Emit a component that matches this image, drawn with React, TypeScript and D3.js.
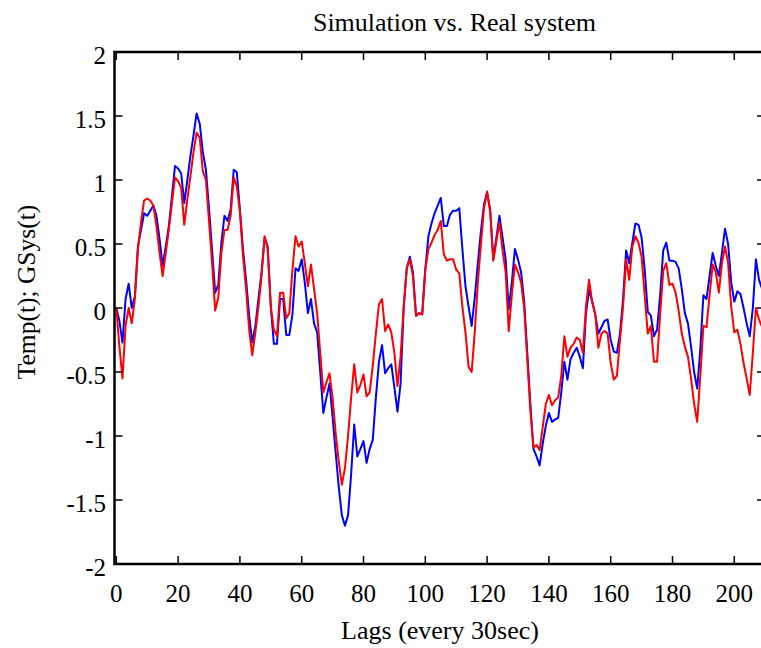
import React from "react";
import * as d3 from "d3";

const title = "Simulation vs. Real system";
const xLabel = "Lags (every 30sec)";
const yLabel = "Temp(t); GSys(t)";
const xTicks = [0, 20, 40, 60, 80, 100, 120, 140, 160, 180, 200];
const yTicks = [-2, -1.5, -1, -0.5, 0, 0.5, 1, 1.5, 2];

const blueSeries = [
  0, -0.1, -0.27, 0.07, 0.19, 0.0, 0.09, 0.48, 0.61, 0.74,
  0.72, 0.76, 0.8, 0.72, 0.54, 0.33, 0.48, 0.64, 0.87, 1.11,
  1.09, 1.05, 0.82, 1.0, 1.19, 1.35, 1.52, 1.44, 1.22, 1.08,
  0.78, 0.45, 0.12, 0.18, 0.51, 0.72, 0.68, 0.77, 1.08, 1.06,
  0.77, 0.46, 0.22, -0.06, -0.27, -0.14, 0.07, 0.28, 0.55, 0.48,
  0.01, -0.28, -0.28, 0.07, 0.07, -0.21, -0.21, -0.05, 0.31, 0.29,
  0.38, 0.2, -0.04, 0.07, -0.12, -0.19, -0.5, -0.82, -0.7, -0.59,
  -0.85, -1.13, -1.4, -1.62, -1.7, -1.62, -1.3, -0.91, -1.16, -1.1,
  -1.04, -1.21, -1.1, -1.03, -0.7, -0.42, -0.29, -0.51, -0.47, -0.44,
  -0.62, -0.81, -0.59, 0.0, 0.31, 0.4, 0.28, -0.06, -0.04, -0.05,
  0.3, 0.56, 0.66, 0.74, 0.8, 0.86, 0.64, 0.64, 0.73, 0.76,
  0.76, 0.78, 0.46, 0.17, 0.01, -0.14, 0.08, 0.35, 0.6, 0.81,
  0.9, 0.77, 0.38, 0.55, 0.72, 0.55, 0.38, -0.01, 0.2, 0.46,
  0.38, 0.28, 0.05, -0.35, -0.75, -1.1, -1.16, -1.23, -1.06, -0.92,
  -0.82, -0.89, -0.87, -0.86, -0.66, -0.42, -0.56, -0.4, -0.35, -0.31,
  -0.38, -0.47, -0.04, 0.14, 0.05, -0.05, -0.2, -0.15, -0.1, -0.09,
  -0.25, -0.34, -0.35, -0.2, 0.07, 0.45, 0.35, 0.51, 0.66, 0.65,
  0.55, 0.3, -0.03, -0.06, -0.22, -0.17, 0.1, 0.45, 0.51, 0.37,
  0.37, 0.36, 0.31, 0.15, -0.04, -0.12, -0.3, -0.5, -0.63, -0.32,
  0.1, 0.07, 0.25, 0.43, 0.33, 0.25, 0.43, 0.62, 0.5, 0.2,
  0.05, 0.13, 0.11, 0.0, -0.12, -0.22, 0.0, 0.38, 0.22, 0.15,
];

const redSeries = [
  0, -0.3, -0.55, -0.14, 0.0, -0.12, 0.07, 0.46, 0.67, 0.84,
  0.855, 0.84, 0.8, 0.64, 0.43, 0.25, 0.43, 0.61, 0.82, 1.02,
  0.99, 0.94, 0.65, 0.85, 1.03, 1.22, 1.37, 1.33, 1.07, 1.0,
  0.68, 0.35, -0.02, 0.08, 0.43, 0.61, 0.61, 0.72, 1.02, 0.95,
  0.75, 0.41, 0.15, -0.17, -0.37, -0.19, 0.01, 0.25, 0.56, 0.46,
  0.01, -0.17, -0.22, 0.12, 0.12, -0.08, -0.04, 0.3, 0.56, 0.48,
  0.52, 0.35, 0.17, 0.34, 0.15, -0.04, -0.35, -0.66, -0.58, -0.51,
  -0.7, -0.98, -1.2, -1.38, -1.25, -1.0, -0.7, -0.44, -0.66, -0.6,
  -0.52, -0.69, -0.66, -0.45, -0.2, 0.03, 0.07, -0.18, -0.13, -0.19,
  -0.35, -0.61, -0.38, 0.01, 0.31, 0.38, 0.25, -0.06, -0.04, -0.05,
  0.3, 0.46, 0.51, 0.57, 0.61, 0.68, 0.42, 0.37, 0.38, 0.38,
  0.3, 0.27, 0.01, -0.19, -0.46, -0.5, -0.19, 0.2, 0.5, 0.78,
  0.91, 0.75, 0.37, 0.52, 0.67, 0.45, 0.28, -0.18, 0.1, 0.34,
  0.28, 0.2, 0.0, -0.4, -0.8, -1.09, -1.07, -1.11, -0.93, -0.75,
  -0.68, -0.76, -0.72, -0.7, -0.53, -0.22, -0.38, -0.31, -0.28, -0.23,
  -0.25, -0.35, 0.01, 0.22, 0.05, -0.05, -0.31, -0.2, -0.18, -0.2,
  -0.43, -0.56, -0.53, -0.25, 0.01, 0.38, 0.22, 0.48, 0.56, 0.51,
  0.4, 0.1, -0.2, -0.14, -0.42, -0.42, -0.05, 0.29, 0.35, 0.18,
  0.19, 0.12, -0.02, -0.2, -0.3, -0.38, -0.55, -0.75, -0.89, -0.53,
  -0.14, -0.15, 0.1, 0.34, 0.28, 0.12, 0.35, 0.48, 0.35, 0.01,
  -0.19, -0.17, -0.28, -0.43, -0.55, -0.68, -0.35, 0.0, -0.09, -0.15,
];

const W = 761;
const H = 648;
const left = 114.5;
const right = 765;
const top = 52;
const bottom = 564;
const FONT = "'Liberation Serif', 'Times New Roman', serif";

export default function App() {
  const x = d3.scaleLinear().domain([0, 210]).range([116.3, 765.2]);
  const y = d3.scaleLinear().domain([-2, 2]).range([bottom, top]);
  const line = d3
    .line<number>()
    .x((_, i) => x(i))
    .y((d) => y(d));
  const tick = 8;

  return (
    <svg
      width={W}
      height={H}
      style={{ position: "absolute", left: 0, top: 0, background: "#fff" }}
      fontFamily={FONT}
    >
      <defs>
        <clipPath id="plot">
          <rect x={left} y={top} width={right - left} height={bottom - top} />
        </clipPath>
      </defs>
      <text x={454.5} y={31} fontSize={26} textAnchor="middle" fill="#000">
        {title}
      </text>
      <g clipPath="url(#plot)">
        <path d={line(blueSeries) || ""} fill="none" stroke="#0000ff" strokeWidth={2} strokeLinejoin="round" />
        <path d={line(redSeries) || ""} fill="none" stroke="#ff0000" strokeWidth={2} strokeLinejoin="round" />
      </g>
      {yTicks.map((t) => (
        <g key={"y" + t}>
          <line x1={left} x2={left + tick} y1={y(t)} y2={y(t)} stroke="#000" strokeWidth={1.5} />
          <line x1={right - tick} x2={right} y1={y(t)} y2={y(t)} stroke="#000" strokeWidth={1.5} />
          <text x={106} y={y(t) + 2.5} dy="0.36em" fontSize={25} textAnchor="end" fill="#000">
            {t}
          </text>
        </g>
      ))}
      {xTicks.map((t) => (
        <g key={"x" + t}>
          <line x1={x(t)} x2={x(t)} y1={bottom} y2={bottom - tick} stroke="#000" strokeWidth={1.5} />
          <line x1={x(t)} x2={x(t)} y1={top} y2={top + tick} stroke="#000" strokeWidth={1.5} />
          <text x={x(t)} y={602} fontSize={25} textAnchor="middle" fill="#000">
            {t}
          </text>
        </g>
      ))}
      <rect
        x={left}
        y={top}
        width={right - left}
        height={bottom - top}
        fill="none"
        stroke="#000"
        strokeWidth={2.5}
      />
      <text x={440} y={639} fontSize={26} textAnchor="middle" fill="#000">
        {xLabel}
      </text>
      <text
        transform={`translate(35, 292) rotate(-90)`}
        fontSize={25.5}
        textAnchor="middle"
        fill="#000"
      >
        {yLabel}
      </text>
    </svg>
  );
}
